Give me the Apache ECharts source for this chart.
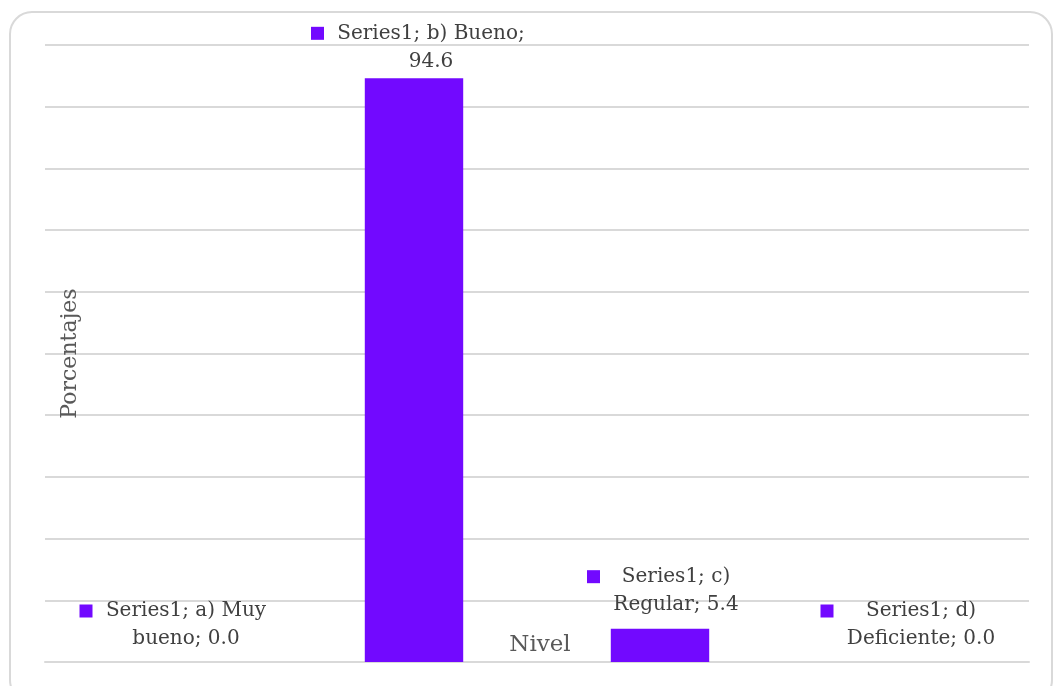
<!DOCTYPE html>
<html>
<head>
<meta charset="utf-8">
<script src="https://cdn.jsdelivr.net/npm/echarts@6/dist/echarts.min.js"></script>
<style>
html,body{margin:0;padding:0;background:#fff;}
#c{width:1054px;height:686px;}
</style>
</head>
<body>
<div id="c"></div>
<script>
const seriesName = 'Series1';
const categories = ['a) Muy bueno', 'b) Bueno', 'c) Regular', 'd) Deficiente'];
const values = [0.0, 94.6, 5.4, 0.0];
const breakAfterWords = [3, 3, 2, 2];
const yTicks = [0, 10, 20, 30, 40, 50, 60, 70, 80, 90, 100];
const yAxisTitle = 'Porcentajes';
const xAxisTitle = 'Nivel';

const labelOffsets = [[5.5, -9], [4.5, -3], [3.5, -10], [2.5, -9]];
const barColor = '#7209FF';
const labelFont = 'DejaVu Serif';
const labelSize = 20;

const chart = echarts.init(document.getElementById('c'), null, {renderer: 'canvas'});

const ctx = document.createElement('canvas').getContext('2d');
ctx.font = labelSize + 'px "' + labelFont + '"';

function splitLabel(i) {
  const full = seriesName + '; ' + categories[i] + '; ' + values[i].toFixed(1);
  const words = full.split(' ');
  const n = breakAfterWords[i];
  return [words.slice(0, n).join(' '), words.slice(n).join(' ')];
}

const textStyleBase = { fontFamily: labelFont, fontSize: labelSize, color: '#404040', lineHeight: 28, align: 'center' };

const data = values.map((v, i) => {
  const [l1, l2] = splitLabel(i);
  const W = Math.ceil(Math.max(ctx.measureText(l1).width, ctx.measureText(l2).width)) + 2;
  return {
    value: v,
    label: {
      offset: labelOffsets[i],
      formatter: '{k|}{g|}{t|' + l1 + '}\n{z|}{g|}{t|' + l2 + '}',
      rich: {
        k: { width: 13, height: 13, backgroundColor: barColor },
        z: { width: 13, height: 13 },
        g: { width: 12 },
        t: Object.assign({ width: W }, textStyleBase)
      }
    }
  };
});

chart.setOption({
  backgroundColor: '#ffffff',
  animation: false,
  graphic: [{
    type: 'rect',
    shape: { x: 10, y: 12, width: 1042, height: 690, r: 22 },
    style: { fill: 'none', stroke: '#d9d9d9', lineWidth: 2 },
    silent: true,
    z: -1
  }],
  grid: { left: 45, right: 25, top: 45, bottom: 24, containLabel: false },
  xAxis: {
    type: 'category',
    data: categories,
    axisLine: { show: true, lineStyle: { color: '#d9d9d9', width: 2 } },
    axisTick: { show: false },
    axisLabel: { show: false },
    name: xAxisTitle,
    nameLocation: 'middle',
    nameGap: -28,
    nameTextStyle: { fontFamily: 'DejaVu Serif', fontSize: 23, color: '#595959', padding: [0, 0, 0, 6] }
  },
  yAxis: {
    type: 'value',
    min: yTicks[0],
    max: yTicks[yTicks.length - 1],
    interval: yTicks[1] - yTicks[0],
    axisLine: { show: false },
    axisTick: { show: false },
    axisLabel: { show: false },
    splitLine: { show: true, lineStyle: { color: '#d9d9d9', width: 2 } },
    name: yAxisTitle,
    nameLocation: 'middle',
    nameRotate: 90,
    nameGap: -36,
    nameTextStyle: { fontFamily: 'DejaVu Serif', fontSize: 22, color: '#595959' }
  },
  series: [{
    type: 'bar',
    name: seriesName,
    data: data,
    barWidth: '40%',
    itemStyle: { color: barColor },
    label: {
      show: true,
      position: 'top',
      distance: 0,
      align: 'center'
    }
  }]
});
</script>
</body>
</html>
